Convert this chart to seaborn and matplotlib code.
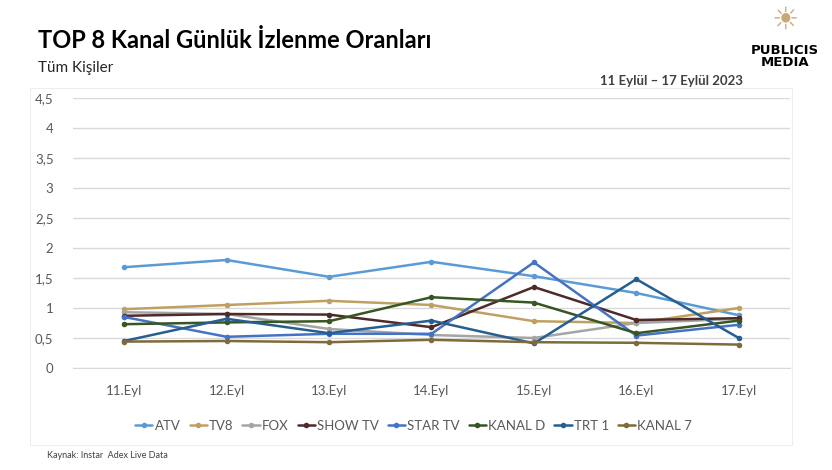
import numpy as np
import pandas as pd
import seaborn as sns
import matplotlib.pyplot as plt
from matplotlib.patches import Rectangle

days = ["11.Eyl", "12.Eyl", "13.Eyl", "14.Eyl", "15.Eyl", "16.Eyl", "17.Eyl"]
channels = ["ATV", "TV8", "FOX", "SHOW TV", "STAR TV", "KANAL D", "TRT 1", "KANAL 7"]

atv = [1.68, 1.80, 1.52, 1.77, 1.53, 1.25, 0.88]
tv8 = [0.98, 1.05, 1.12, 1.05, 0.78, 0.75, 1.00]
fox = [0.93, 0.90, 0.65, 0.55, 0.50, 0.75, 0.82]
show_tv = [0.87, 0.90, 0.89, 0.68, 1.35, 0.80, 0.83]
star_tv = [0.85, 0.52, 0.57, 0.57, 1.76, 0.54, 0.72]
kanal_d = [0.73, 0.76, 0.78, 1.18, 1.09, 0.58, 0.79]
trt1 = [0.45, 0.82, 0.58, 0.79, 0.41, 1.48, 0.50]
kanal7 = [0.44, 0.45, 0.43, 0.47, 0.43, 0.42, 0.39]

colors = ["#5B9BD5", "#C0A062", "#A5A5A5", "#4E2A2A", "#4472C4", "#375623", "#255E91", "#7F6A3A"]

values = [atv, tv8, fox, show_tv, star_tv, kanal_d, trt1, kanal7]
df = pd.DataFrame({
    "gun": days * len(channels),
    "kanal": np.repeat(channels, len(days)),
    "oran": np.concatenate(values),
})
df["x"] = df["gun"].map({d: i for i, d in enumerate(days)})

sns.set_style("white")
plt.rcParams['font.family'] = ['Lato', 'DejaVu Sans']

fig = plt.figure(figsize=(8.32, 4.70), dpi=100)
ax = fig.add_axes([73 / 832, 102 / 470, 717 / 832, 270 / 470])

sns.lineplot(data=df, x="x", y="oran", hue="kanal", hue_order=channels,
             palette=colors, marker="o", markersize=4, markeredgewidth=0,
             linewidth=1.8, ax=ax)

ax.set_xlim(-0.5, len(days) - 0.5)
ax.set_ylim(0, 4.5)
ax.set_xticks(range(len(days)))
ax.set_xticklabels(days)
yt = np.arange(0, 4.51, 0.5)
ax.set_yticks(yt)
ax.set_yticklabels([("%g" % v).replace(".", ",") for v in yt])
ax.grid(axis="y", color="#D9D9D9", linewidth=1)
ax.set_xlabel("")
ax.set_ylabel("")
for s in ["top", "right", "left"]:
    ax.spines[s].set_visible(False)
ax.spines["bottom"].set_color("#D9D9D9")
ax.tick_params(axis="both", colors="#595959", labelsize=9.5, length=0, pad=12)
ax.tick_params(axis="y", pad=14)

h, l = ax.get_legend_handles_labels()
ax.legend(h, l, loc="center", bbox_to_anchor=(0.475, -0.213), ncol=8, frameon=False,
          fontsize=9.5, labelcolor="#595959", handlelength=1.3, handletextpad=0.15,
          columnspacing=0.7)

fig.patches.append(Rectangle((30 / 832, 25 / 470), 762 / 832, 357 / 470,
                             transform=fig.transFigure, fill=False,
                             edgecolor="#EDEDED", linewidth=0.8))

fig.text(38 / 832, 1 - 40 / 470, "TOP 8 Kanal Günlük İzlenme Oranları",
         fontsize=17, fontweight="bold", va="center", color="black")
fig.text(38 / 832, 1 - 68 / 470, "Tüm Kişiler", fontsize=11, va="center", color="#262626")
fig.text(743 / 832, 1 - 81 / 470, "11 Eylül – 17 Eylül 2023", fontsize=9.5,
         fontweight="bold", ha="right", va="center", color="#404040")
fig.text(785 / 832, 1 - 50 / 470, "PUBLICIS", fontsize=9.5, fontweight="bold",
         ha="center", va="center", color="black", family="DejaVu Sans")
fig.text(785 / 832, 1 - 63 / 470, "MEDIA", fontsize=9.5, fontweight="bold",
         ha="center", va="center", color="black", family="DejaVu Sans")
fig.text(785 / 832, 1 - 20 / 470, "☀", fontsize=22, ha="center", va="center",
         color="#C9A878", family="DejaVu Sans")
fig.text(47 / 832, 1 - 455 / 470, "Kaynak: Instar  Adex Live Data", fontsize=6.5,
         va="center", color="#404040")

fig.savefig("out.png", dpi=100)
